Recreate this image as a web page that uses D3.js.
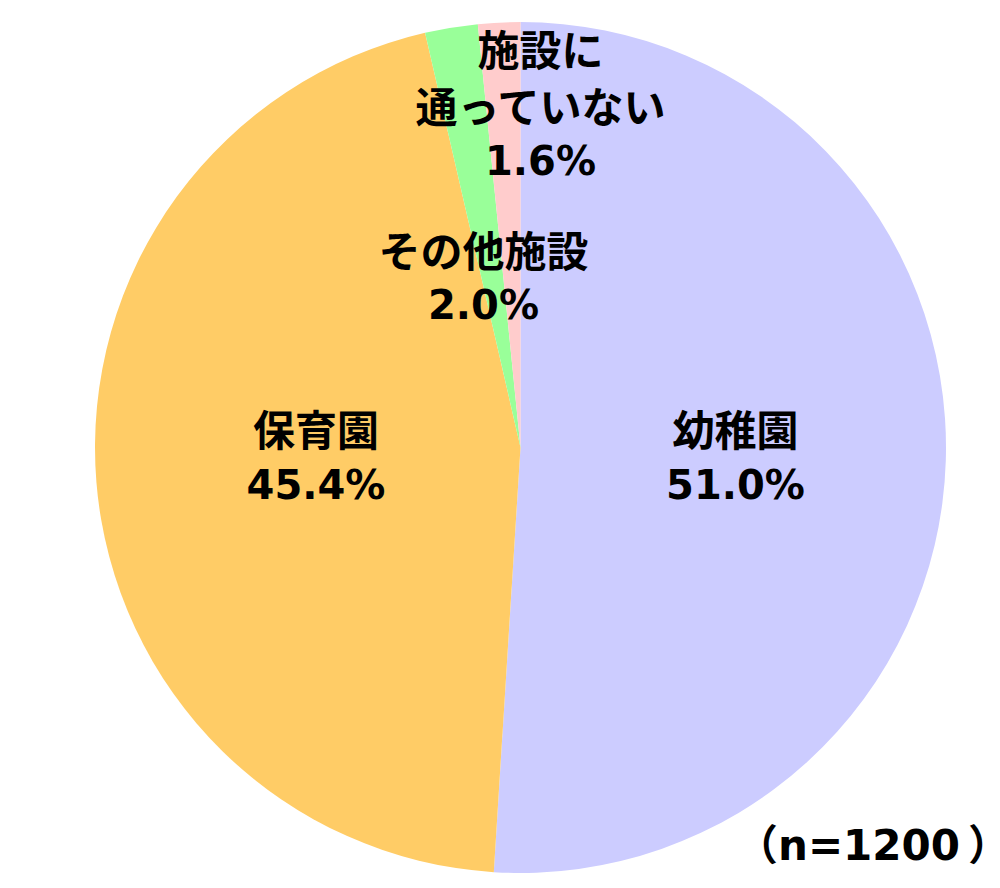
<!DOCTYPE html>
<html><head><meta charset="utf-8">
<script src="https://cdn.jsdelivr.net/npm/d3@7"></script>
<style>body{margin:0;background:#fff;} svg{display:block;} .halt{font-feature-settings:"halt";}</style>
</head><body>
<svg id="c" width="1000" height="888"></svg>
<script>
const categories = ["幼稚園", "保育園", "その他施設", "施設に通っていない"];
const values = [51.0, 45.4, 2.0, 1.6];
const labelLines = [["幼稚園"], ["保育園"], ["その他施設"], ["施設に", "通っていない"]];
const colors = ["#CCCCFF", "#FFCC66", "#99FF99", "#FFCCCC"];
const noteParts = ["（n=1200", "）"];

const svg = d3.select("#c");
const cx = 520.5, cy = 447.5, r = 425.5;
const g = svg.append("g").attr("transform", `translate(${cx},${cy})`);
const data = categories.map((c, i) => ({c, v: values[i], lines: labelLines[i], color: colors[i]}));
const pie = d3.pie().value(d => d.v).sort(null);
const arcs = pie(data);
const arc = d3.arc().innerRadius(0).outerRadius(r);
g.selectAll("path").data(arcs).join("path").attr("d", arc).attr("fill", d => d.data.color);

// label anchor positions (centre of text block) relative to pie centre
const labelPos = [[215, 8.5], [-204.5, 8.5], [-37, -171], [20, -343.5]];
const cjk = "'Noto Sans CJK JP', sans-serif";
const num = "'DejaVu Sans', 'Noto Sans CJK JP', sans-serif";
arcs.forEach((a, i) => {
  const lines = a.data.lines.map(s => ({s, f: cjk})).concat([{s: a.data.v.toFixed(1) + "%", f: num}]);
  const lh = 57;
  const [lx, ly] = labelPos[i];
  const y0 = ly - (lines.length - 1) * lh / 2;
  const t = g.append("text").attr("text-anchor", "middle")
    .attr("font-weight", "bold").attr("font-size", 42).attr("fill", "#000");
  lines.forEach((o, k) => {
    t.append("tspan").attr("x", lx).attr("y", y0 + k * lh).attr("dominant-baseline", "central")
      .attr("font-family", o.f).attr("font-size", o.f === num ? 40 : 42).text(o.s);
  });
});

const nt = svg.append("text").attr("x", 989).attr("y", 845).attr("text-anchor", "end")
  .attr("dominant-baseline", "central")
  .attr("font-family", num).attr("font-weight", "bold").attr("font-size", 42);
nt.append("tspan").text(noteParts[0]);
nt.append("tspan").attr("class", "halt").attr("dx", 8).text(noteParts[1]);
</script>
</body></html>
